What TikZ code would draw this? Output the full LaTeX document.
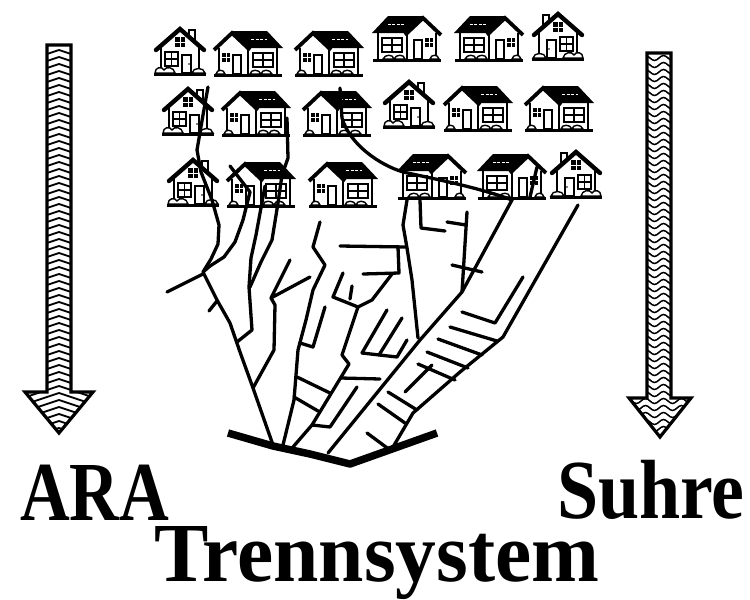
\documentclass[tikz,border=0pt]{standalone}
\usepackage{fontspec}
\setmainfont{Liberation Serif}
\begin{document}
\begin{tikzpicture}[x=1pt,y=-1pt]
\tikzset{
  pipe/.style={line width=3.3pt,line cap=round,line join=round},
  bush/.style={fill=white,line width=1.4pt},
  outline/.style={line width=3.2pt,line join=miter},
  title/.style={inner sep=0pt,font=\fontsize{84}{84}\selectfont\bfseries},
  narrowhouse/.pic={
    % chimney
    \filldraw[fill=white,line width=2pt] (34,3) rectangle (40,15);
    % gable and walls
    \fill[white] (2,22) -- (25,2) -- (48,22) -- cycle;
    \fill[white] (6,20) rectangle (44,46);
    \draw[line width=2.6pt] (6,19) -- (6,46) (44,19) -- (44,46);
    \draw[line width=4.4pt,line join=miter,line cap=round] (1,23) -- (25,2) -- (49,23);
    % attic window
    \fill (20,10) rectangle (30,20);
    \draw[white,line width=0.9pt] (25,10) -- (25,20) (20,15) -- (30,15);
    % main window
    \draw[line width=2pt] (10,25) rectangle (23,39);
    \draw[line width=1.5pt] (16.5,25) -- (16.5,39) (10,32) -- (23,32);
    % door
    \draw[line width=1.8pt] (27,28) rectangle (36,46);
    \fill (34,37) circle (0.9);
    % shrubs and ground
    \filldraw[bush] (0,46) .. controls (0,40) and (7,39) .. (9,43) .. controls (11,39) and (19,40) .. (20,46) -- cycle;
    \filldraw[bush] (37,46) .. controls (38,40) and (49,40) .. (50,46) -- cycle;
    \draw[line width=3pt] (-1,47) -- (51,47);
  },
  widehouse/.pic={
    \fill[white] (4,13) rectangle (64,42);
    % roof with front gable
    \fill (18,-1) -- (53,-1) -- (69,16) -- (34,16) -- cycle;
    \fill[white] (3,16) -- (18,2) -- (33,16) -- cycle;
    \draw[line width=3.8pt,line join=miter] (0,18) -- (18,1) -- (36,18);
    \draw[white,line width=0.9pt,dash pattern=on 3pt off 1.5pt] (37,7) -- (53,7);
    \draw[line width=2.6pt] (5,16) -- (5,42) (63,16) -- (63,42) (34,16) -- (34,42);
    % small window
    \fill (8,21) rectangle (16,30);
    \draw[white,line width=0.9pt] (12,21) -- (12,30) (8,25.5) -- (16,25.5);
    % door
    \draw[line width=1.8pt] (19,23) rectangle (27,42);
    % large window
    \draw[line width=2pt] (39,21) rectangle (59,35);
    \draw[line width=1.5pt] (49,21) -- (49,35) (39,28) -- (59,28);
    % shrubs and ground
    \filldraw[bush] (2,42) .. controls (3,37) and (10,37) .. (11,42) -- cycle;
    \filldraw[bush] (36,42) .. controls (37,37) and (45,37) .. (47,42) .. controls (48,37) and (56,37) .. (58,42) -- cycle;
    \draw[line width=3pt] (0,43) -- (68,43);
  }
}
\useasboundingbox (0,0) rectangle (750,600);
\fill[white] (0,0) rectangle (750,600);

% ---- houses ----
\pic at (155,27) {narrowhouse};
\pic at (214,32) {widehouse};
\pic at (295,32) {widehouse};
\pic[xscale=-1] at (441,17) {widehouse};
\pic[xscale=-1] at (523,17) {widehouse};
\pic[xscale=-1] at (583,12) {narrowhouse};

\pic at (163,87) {narrowhouse};
\pic at (222,92) {widehouse};
\pic at (303,92) {widehouse};
\pic at (384,80) {narrowhouse};
\pic at (444,87) {widehouse};
\pic at (525,87) {widehouse};

\pic at (168,158) {narrowhouse};
\pic at (227,163) {widehouse};
\pic at (309,163) {widehouse};
\pic[xscale=-1] at (466,155) {widehouse};
\pic[xscale=-1] at (546,155) {widehouse};
\pic[xscale=-1] at (601,150) {narrowhouse};

% ---- sewer network ----
% left trunk
\draw[pipe] (208,87) -- (203,115) -- (197,150) -- (201,172) -- (212,200) -- (219,225) -- (218,244) -- (211,259) -- (203,272) -- (217,300) -- (230,323) -- (240,352) -- (253,388) -- (273,445);
\draw[pipe] (167,292) -- (203,274);
\draw[pipe] (209,311) -- (217,301);
\draw[pipe] (230,166) -- (250,192) -- (243,220) -- (235,242) -- (224,257) -- (210,266) -- (203,272);
\draw[pipe] (265,186) -- (256,235) -- (251,258) -- (249,287) -- (252,330) -- (237,342);
\draw[pipe] (287,118) -- (288,158) -- (282,175) -- (278,203) -- (272,240) -- (261,262) -- (250,287);
\draw[pipe] (290,260) -- (271,298) -- (310,277);
\draw[pipe] (271,298) -- (275,305) -- (274,350) -- (253,388);

% second trunk
\draw[pipe] (320,222) -- (313,247) -- (325,265) -- (313,290) -- (306,320) -- (298,350) -- (294,400) -- (283,445);
\draw[pipe] (300,343) -- (313,347) -- (325,307);
\draw[pipe] (297,377) -- (330,393);
\draw[pipe] (294,397) -- (318,411);

% third trunk with branches
\draw[pipe] (293,447) -- (312,425) -- (349,364) -- (342,355) -- (358,307);
\draw[pipe] (357,387) -- (330,427) -- (312,425);
\draw[pipe] (341,378) -- (380,379);
\draw[pipe] (362,353) -- (397,357) -- (407,340);
\draw[pipe] (362,353) -- (387,310);
\draw[pipe] (379,355) -- (402,318);
\draw[pipe] (343,273) -- (333,297) -- (358,307) -- (372,300) -- (392,274);
\draw[pipe] (352,286) -- (350,299);
\draw[pipe] (363,274) -- (399,273) -- (398,247);
\draw[pipe] (340,246) -- (406,247);

% collector from the upper houses
\draw[pipe] (340,88) -- (342,118) .. controls (350,145) and (380,165) .. (403,172) .. controls (440,180) and (480,188) .. (512,200);
\draw[pipe] (537,167) -- (530,197);

% long diagonal
\draw[pipe] (328,453) -- (420,340) -- (462,292) -- (512,200);
\draw[pipe] (407,200) -- (403,225) -- (407,248) -- (412,280) -- (418,338);
\draw[pipe] (420,200) -- (421,228) -- (445,231);
\draw[pipe] (447,222) -- (466,225);
\draw[pipe] (467,212) -- (462,292);
\draw[pipe] (452,265) -- (482,272);

% right trunk with its side pipes
\draw[pipe] (578,205) -- (503,337) -- (460,372) -- (413,413) -- (393,447);
\draw[pipe] (523,277) -- (495,323) -- (462,312);
\draw[pipe] (450,327) -- (497,341);
\draw[pipe] (438,339) -- (482,355);
\draw[pipe] (427,352) -- (468,368);
\draw[pipe] (418,364) -- (455,380);
\draw[pipe] (432,365) -- (405,392);
\draw[pipe] (388,392) -- (417,410);
\draw[pipe] (378,404) -- (405,423);
\draw[pipe] (367,433) -- (390,450);

% outfall
\draw[line width=7.5pt,line join=round] (228,433) -- (273,446) -- (310,454) -- (350,464) -- (437,433);

% ---- flow arrows ----
\begin{scope}
  \clip (47,45) -- (71,45) -- (71,392) -- (93,392) -- (59,433) -- (25,392) -- (47,392) -- cycle;
  \foreach \y in {50,57,...,435}
    \draw[line width=1.8pt] (20,\y+13) -- (59,\y) -- (98,\y+13);
\end{scope}
\draw[outline] (47,45) -- (71,45) -- (71,392) -- (93,392) -- (59,433) -- (25,392) -- (47,392) -- cycle;

\begin{scope}
  \clip (647,53) -- (671,53) -- (671,398) -- (691,398) -- (660,437) -- (629,398) -- (647,398) -- cycle;
  \foreach \y in {58,65,...,440}
    \draw[line width=1.5pt] (623,\y) \foreach \k in {0,...,3} { sin ++(4.5,-2.5) cos ++(4.5,2.5) sin ++(4.5,2.5) cos ++(4.5,-2.5) };
\end{scope}
\draw[outline] (647,53) -- (671,53) -- (671,398) -- (691,398) -- (660,437) -- (629,398) -- (647,398) -- cycle;

% ---- labels ----
\node[title,anchor=base west] (ara) at (20,520) {\scalebox{0.82}[1]{ARA}};
\node[title,anchor=base east] (suhre) at (745,518) {\scalebox{0.88}[1]{Suhre}};
\node[title,anchor=base] (trenn) at (377,581) {\scalebox{0.97}[1]{Trennsystem}};
\end{tikzpicture}
\end{document}
